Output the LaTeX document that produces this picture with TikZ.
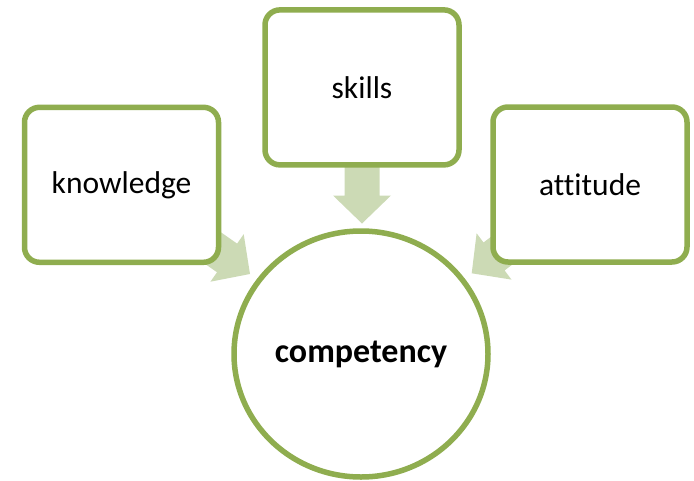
\documentclass[tikz,border=0pt]{standalone}
\usepackage{fontspec}
\setmainfont{Carlito}[Ligatures=NoCommon]
\usetikzlibrary{shapes.geometric}
\definecolor{boxline}{HTML}{8FAD4F}
\definecolor{arrowfill}{HTML}{CCDAB5}
\tikzset{
  box/.style={draw=boxline, line width=5.5pt, fill=white, rounded corners=15pt,
    minimum width=194pt, minimum height=155pt, inner sep=0pt,
    font=\fontsize{31.5}{36}\selectfont},
  core/.style={ellipse, draw=boxline, line width=5.5pt, fill=white,
    minimum width=254pt, minimum height=246pt, inner sep=0pt,
    font=\fontsize{34}{40}\selectfont\bfseries},
  blockarrow/.style={fill=arrowfill, draw=none}
}
\newcommand{\mkarrow}[2]{%
  \begin{scope}[shift={#1}, rotate=#2]
    \fill[blockarrow] (0,0) -- (-28,29) -- (-28,17.5) -- (-62,17.5) -- (-62,-17.5) -- (-28,-17.5) -- (-28,-29) -- cycle;
  \end{scope}}
\begin{document}
\begin{tikzpicture}[x=1pt,y=-1pt]
  \useasboundingbox (0,0) rectangle (694,480);
  % arrows (drawn beneath boxes)
  \mkarrow{(250,274)}{-35}
  \mkarrow{(362,223.5)}{-90}
  \mkarrow{(471.7,273.3)}{-143}
  % boxes
  \node[box] (knowledge) at (121.5,184.8) {knowledge};
  \node[box] (skills) at (362,87.4) {skills};
  \node[box] (attitude) at (590,184.5) {attitude};
  \node[core] (competency) at (361,354) {competency};
\end{tikzpicture}
\end{document}
